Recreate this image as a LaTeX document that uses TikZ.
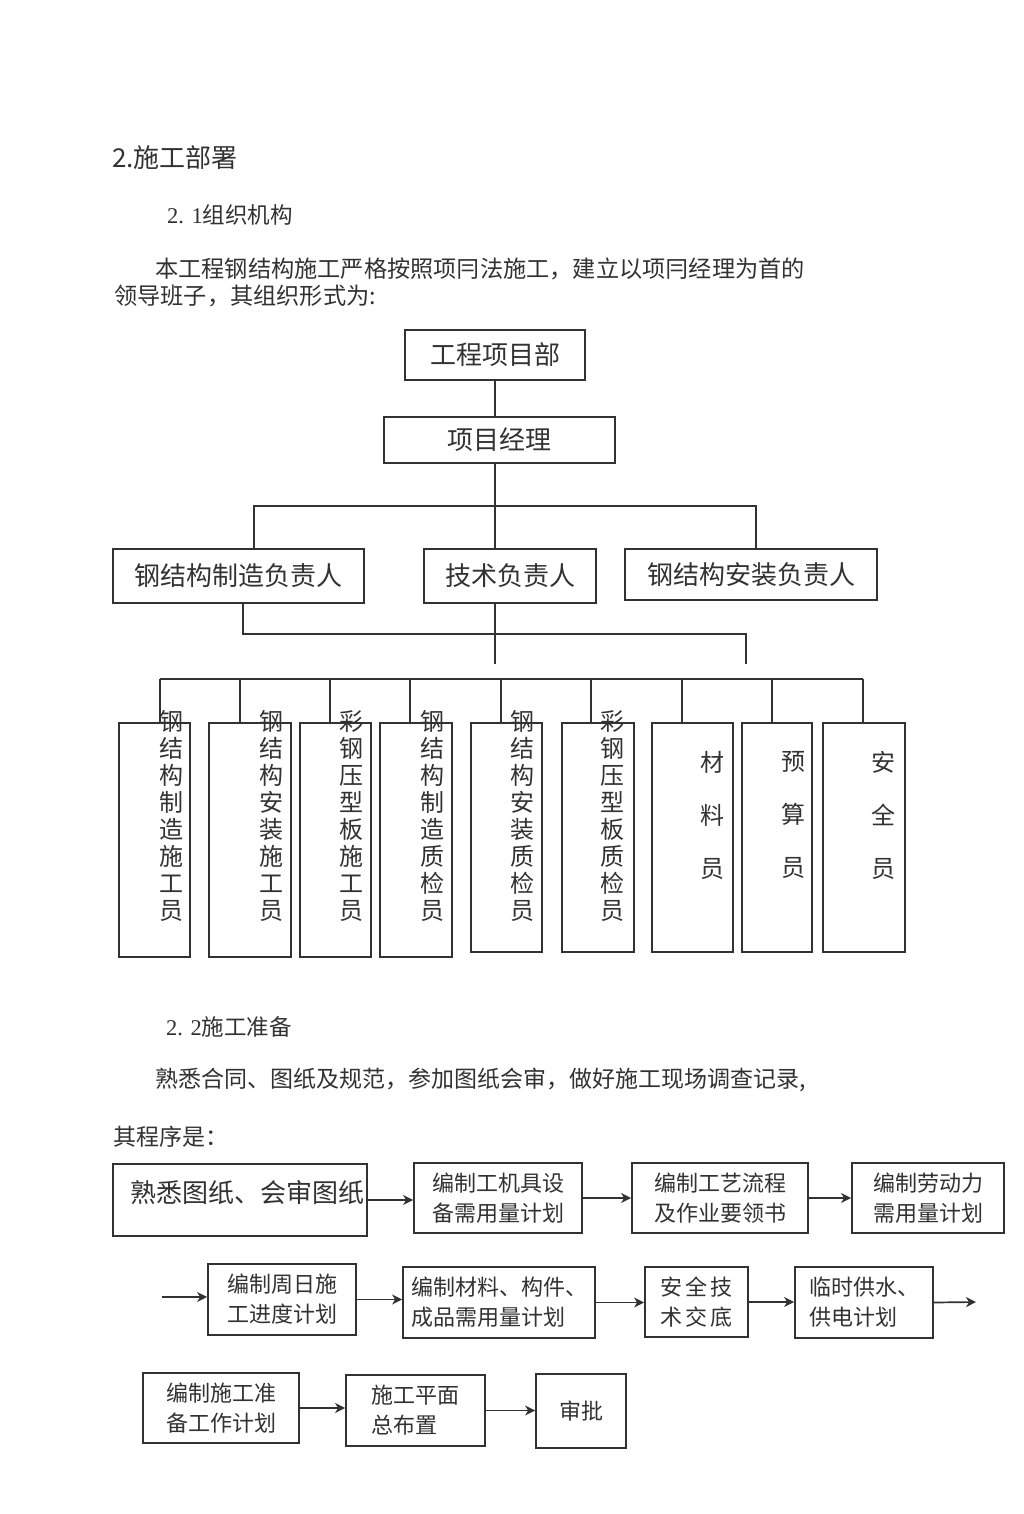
\documentclass[tikz,border=0pt]{standalone}
\usepackage{fontspec}
\setmainfont{Noto Sans CJK SC}
\newfontfamily\serifnum{Liberation Serif}
\usetikzlibrary{arrows.meta}
\definecolor{ink}{RGB}{50,50,50}

\begin{document}
\begin{tikzpicture}[x=1pt, y=-1pt,
  box/.style={draw=ink, line width=1.8pt, inner sep=0pt, text=ink},
  wire/.style={ink, line width=1.8pt},
  arr/.style={ink, line width=1.7pt, -{Stealth[length=10pt,width=10pt,inset=3pt]}},
  txt/.style={anchor=west, inner sep=0pt, text=ink},
  vtxt/.style={inner sep=0pt, text=ink, align=center, font=\fontsize{24}{26.9}\selectfont},
  wtxt/.style={inner sep=0pt, text=ink, align=center, font=\fontsize{24}{53}\selectfont},
  flow/.style={box, align=left, font=\fontsize{22}{30}\selectfont}]
  % Page
  \fill[white] (0,0) rectangle (1024,1514);
  \useasboundingbox (0,0) rectangle (1024,1514);

  % Headings and text
  \node[txt, font=\fontsize{26}{30}\selectfont] (h1) at (112,158) {2.施工部署};
  \node[txt, font=\fontsize{22.5}{26}\selectfont] (h2) at (167,215) {{\serifnum 2. 1}组织机构};
  \node[txt, font=\fontsize{23.2}{28}\selectfont] (p1) at (155,269) {本工程钢结构施工严格按照项冃法施工，建立以项冃经理为首的};
  \node[txt, font=\fontsize{23.2}{28}\selectfont] (p2) at (114,296) {领导班子，其组织形式为:};

  % Org chart, upper levels
  \node[box, minimum width=180, minimum height=50, font=\fontsize{26}{30}\selectfont] (hq) at (495,355) {工程项目部};
  \node[box, minimum width=231, minimum height=46, font=\fontsize{26}{30}\selectfont] (pm) at (499.5,440) {项目经理};
  \node[box, minimum width=251, minimum height=54, font=\fontsize{26}{30}\selectfont] (m1) at (238.5,576) {钢结构制造负责人};
  \node[box, minimum width=172, minimum height=54, font=\fontsize{26}{30}\selectfont] (m2) at (510,576) {技术负责人};
  \node[box, minimum width=252, minimum height=51, font=\fontsize{26}{30}\selectfont] (m3) at (751,574.5) {钢结构安装负责人};

  \coordinate (ja) at (495,506);
  \coordinate (jl) at (254,506);
  \coordinate (jr) at (756,506);
  \draw[wire] (hq.south) -- (hq.south |- pm.north);
  \draw[wire] (pm.south -| ja) -- (ja) -- (ja |- m2.north);
  \draw[wire] (jl |- m1.north) -- (jl) -- (jr) -- (jr |- m3.north);

  \coordinate (jb) at (243,634);
  \coordinate (jc) at (746,634);
  \coordinate (jd) at (495,664);
  \coordinate (je) at (746,664);
  \draw[wire] (m1.south -| jb) -- (jb) -- (jc) -- (je);
  \draw[wire] (m2.south -| jd) -- (jd);

  % Org chart, staff
  \node[box, minimum width=71, minimum height=234] (b1) at (154.5,840) {};
  \node[box, minimum width=82, minimum height=234] (b2) at (250,840) {};
  \node[box, minimum width=71, minimum height=234] (b3) at (335.5,840) {};
  \node[box, minimum width=72, minimum height=234] (b4) at (416,840) {};
  \node[box, minimum width=71, minimum height=229] (b5) at (506.5,837.5) {};
  \node[box, minimum width=72, minimum height=229] (b6) at (598,837.5) {};
  \node[box, minimum width=81, minimum height=229] (b7) at (692.5,837.5) {};
  \node[box, minimum width=70, minimum height=229] (b8) at (777,837.5) {};
  \node[box, minimum width=82, minimum height=229] (b9) at (864,837.5) {};

  \node[vtxt] (t1) at (171,816) {钢\\结\\构\\制\\造\\施\\工\\员};
  \node[vtxt] (t2) at (271,816) {钢\\结\\构\\安\\装\\施\\工\\员};
  \node[vtxt] (t3) at (351,816) {彩\\钢\\压\\型\\板\\施\\工\\员};
  \node[vtxt] (t4) at (432,816) {钢\\结\\构\\制\\造\\质\\检\\员};
  \node[vtxt] (t5) at (522,816) {钢\\结\\构\\安\\装\\质\\检\\员};
  \node[vtxt] (t6) at (612,816) {彩\\钢\\压\\型\\板\\质\\检\\员};
  \node[wtxt] (t7) at (712,815) {材\\料\\员};
  \node[wtxt] (t8) at (793,815) {预\\算\\员};
  \node[wtxt] (t9) at (883,815) {安\\全\\员};

  \coordinate (d1) at (160,679);
  \coordinate (d2) at (240,679);
  \coordinate (d3) at (330,679);
  \coordinate (d4) at (410,679);
  \coordinate (d5) at (501,679);
  \coordinate (d6) at (591,679);
  \coordinate (d7) at (682,679);
  \coordinate (d8) at (772,679);
  \coordinate (d9) at (863,679);
  \draw[wire] (d1) -- (d9);
  \draw[wire] (d1) -- (d1 |- b1.north);
  \draw[wire] (d2) -- (d2 |- b2.north);
  \draw[wire] (d3) -- (d3 |- b3.north);
  \draw[wire] (d4) -- (d4 |- b4.north);
  \draw[wire] (d5) -- (d5 |- b5.north);
  \draw[wire] (d6) -- (d6 |- b6.north);
  \draw[wire] (d7) -- (d7 |- b7.north);
  \draw[wire] (d8) -- (d8 |- b8.north);
  \draw[wire] (d9) -- (d9 |- b9.north);

  % Preparation text
  \node[txt, font=\fontsize{22.5}{26}\selectfont] (h3) at (166,1027) {{\serifnum 2. 2}施工准备};
  \node[txt, font=\fontsize{23}{28}\selectfont] (p3) at (155,1080) {熟悉合同、图纸及规范，参加图纸会审，做好施工现场调查记录,};
  \node[txt, font=\fontsize{23}{28}\selectfont] (p4) at (113,1137) {其程序是：};

  % Procedure, row 1
  \node[box, minimum width=254, minimum height=72, text width=248, align=right, text depth=18pt, font=\fontsize{26}{30}\selectfont] (fA) at (240,1200) {熟悉图纸、会审图纸};
  \node[flow, minimum width=168, minimum height=70] (fB) at (498,1198) {编制工机具设\\备需用量计划};
  \node[flow, minimum width=176, minimum height=70] (fC) at (720,1198) {编制工艺流程\\及作业要领书};
  \node[flow, minimum width=152, minimum height=70] (fD) at (928,1198) {编制劳动力\\需用量计划};
  \draw[arr] (fA.east) -- (fA.east -| fB.west);
  \draw[arr] (fB.east) -- (fB.east -| fC.west);
  \draw[arr] (fC.east) -- (fC.east -| fD.west);

  % Procedure, row 2
  \coordinate (in2) at (162,1297);
  \coordinate (out2) at (976,1302);
  \node[flow, minimum width=148, minimum height=71] (fE) at (282,1299.5) {编制周日施\\工进度计划};
  \node[flow, minimum width=192, minimum height=71] (fF) at (499,1302.5) {编制材料、构件、\\成品需用量计划};
  \node[flow, minimum width=103, minimum height=70] (fG) at (696.5,1302) {安\kern3pt 全\kern3pt 技\\术\kern3pt 交\kern3pt 底};
  \node[flow, minimum width=138, minimum height=71] (fH) at (864,1302.5) {临时供水、\\供电计划};
  \draw[arr] (in2) -- (in2 -| fE.west);
  \draw[arr] (fE.east) -- (fE.east -| fF.west);
  \draw[arr] (fF.east) -- (fF.east -| fG.west);
  \draw[arr] (fG.east) -- (fG.east -| fH.west);
  \draw[arr] (fH.east) -- (out2);

  % Procedure, row 3
  \node[flow, minimum width=156, minimum height=70] (fI) at (221,1408) {编制施工准\\备工作计划};
  \node[flow, minimum width=139, minimum height=71] (fJ) at (415.5,1410.5) {施工平面\\总布置};
  \node[flow, minimum width=90, minimum height=74] (fK) at (581,1411) {审批};
  \draw[arr] (fI.east) -- (fI.east -| fJ.west);
  \draw[arr] (fJ.east) -- (fJ.east -| fK.west);
\end{tikzpicture}
\end{document}
